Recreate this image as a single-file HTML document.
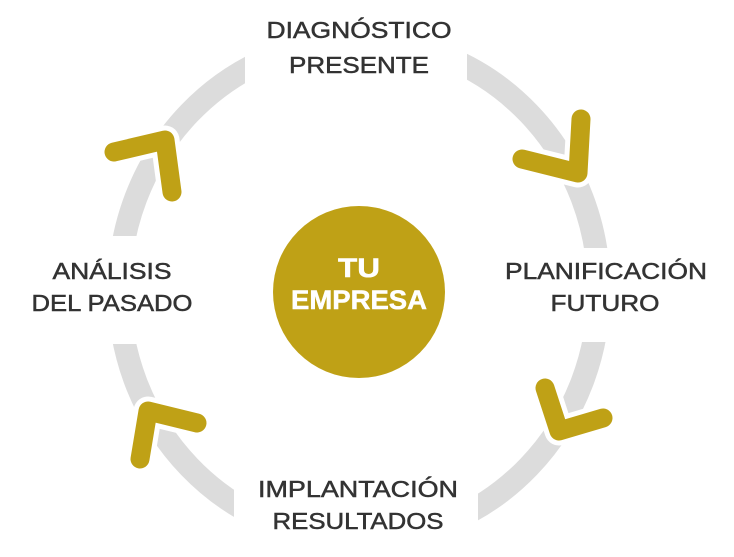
<!DOCTYPE html>
<html><head><meta charset="utf-8"><style>
html,body{margin:0;padding:0;background:#fff;}
svg{display:block;}
text{font-family:"Liberation Sans","DejaVu Sans",sans-serif;fill:#333;stroke:#333;stroke-width:0.5;font-size:23px;text-anchor:middle;}
</style></head><body>
<svg width="734" height="557" viewBox="0 0 734 557" xmlns="http://www.w3.org/2000/svg">
<ellipse cx="359" cy="290" rx="240" ry="250" fill="none" stroke="#dcdcdc" stroke-width="23"/>
<rect x="245" y="20" width="222" height="80" fill="#fff"/>
<rect x="95" y="236" width="55" height="108" fill="#fff"/>
<rect x="575" y="248" width="50" height="94" fill="#fff"/>
<rect x="234" y="480" width="244" height="75" fill="#fff"/>
<g fill="none" stroke-linecap="round" stroke-linejoin="round">
<g stroke="#fff" stroke-width="29">
<polyline points="114,152 165,140 172,192"/>
<polyline points="581,119 578,173 522,159"/>
<polyline points="545,388 559,431 603,418"/>
<polyline points="140,459 148,411 197,423"/>
</g>
<g stroke="#bfa116" stroke-width="19">
<polyline points="114,152 165,140 172,192"/>
<polyline points="581,119 578,173 522,159"/>
<polyline points="545,388 559,431 603,418"/>
<polyline points="140,459 148,411 197,423"/>
</g>
</g>
<circle cx="359" cy="292" r="86" fill="#bfa116"/>
<text x="359" y="277" style="fill:#fff;stroke:#fff;font-weight:bold;font-size:27px" textLength="42" lengthAdjust="spacingAndGlyphs">TU</text>
<text x="359" y="309" style="fill:#fff;stroke:#fff;font-weight:bold;font-size:27px" textLength="136" lengthAdjust="spacingAndGlyphs">EMPRESA</text>
<text x="359" y="38" textLength="185" lengthAdjust="spacingAndGlyphs">DIAGNÓSTICO</text>
<text x="359" y="73" textLength="140" lengthAdjust="spacingAndGlyphs">PRESENTE</text>
<text x="112" y="279" textLength="119" lengthAdjust="spacingAndGlyphs">ANÁLISIS</text>
<text x="112" y="311" textLength="161" lengthAdjust="spacingAndGlyphs">DEL PASADO</text>
<text x="606" y="279" textLength="202" lengthAdjust="spacingAndGlyphs">PLANIFICACIÓN</text>
<text x="605" y="311" textLength="109" lengthAdjust="spacingAndGlyphs">FUTURO</text>
<text x="358" y="497" textLength="200" lengthAdjust="spacingAndGlyphs">IMPLANTACIÓN</text>
<text x="358" y="529" textLength="171" lengthAdjust="spacingAndGlyphs">RESULTADOS</text>
</svg>
</body></html>
